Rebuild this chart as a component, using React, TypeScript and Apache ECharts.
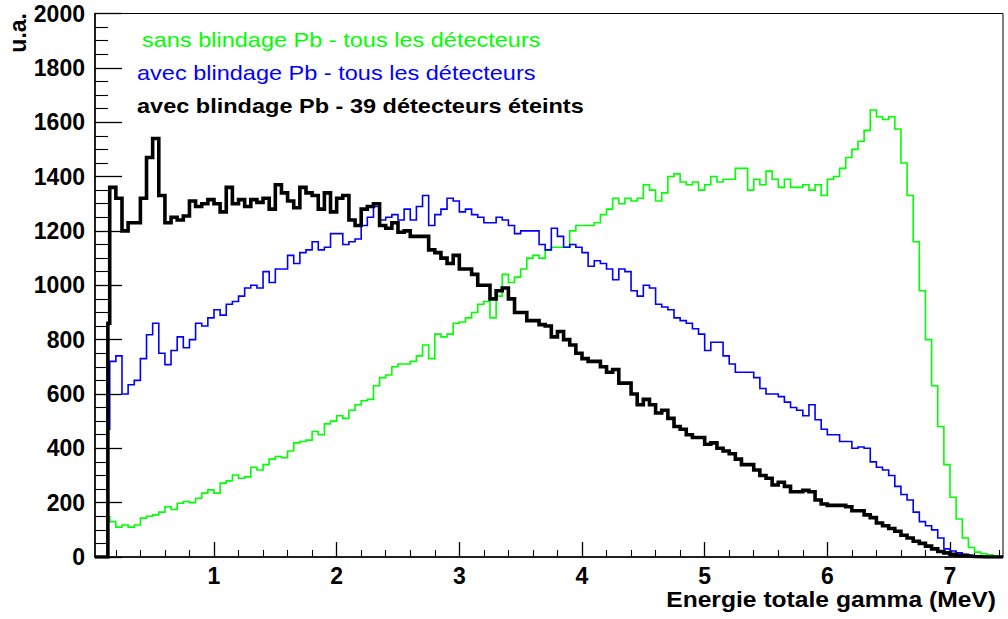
import React, { useEffect, useRef } from "react";
import * as echarts from "echarts";

// Axis ranges
const X_MIN = 0.03;
const X_MAX = 7.432;
const Y_MIN = 0;
const Y_MAX = 2000;
const Y_STEP = 200;

// Histogram binning (first partial bin starts at FIRST_EDGE, then regular bins)
const FIRST_EDGE = 0.135;
const BIN_START = 0.15;
const BIN_WIDTH = 0.05;

// Tick positions on the energy axis
const MAJOR_X = [1, 2, 3, 4, 5, 6, 7];
const MINOR_X = [
  0.2, 0.4, 0.6, 0.8, 1.2, 1.4, 1.6, 1.8, 2.2, 2.4, 2.6, 2.8, 3.2, 3.4, 3.6, 3.8,
  4.2, 4.4, 4.6, 4.8, 5.2, 5.4, 5.6, 5.8, 6.2, 6.4, 6.6, 6.8, 7.2, 7.4,
];

// sans blindage Pb - tous les détecteurs
const GREEN = [
  148,
  130, 110, 118, 110, 118, 143, 150, 155, 165, 185, 175, 198, 204, 200, 216, 235, 247, 235, 272, 280, 302, 290, 295, 330,
  320, 340, 360, 370, 365, 390, 420, 425, 430, 462, 450, 490, 500, 520, 510, 540, 560, 575, 580, 630, 660, 670, 700, 710, 710,
  720, 740, 780, 730, 820, 810, 820, 860, 865, 880, 900, 930, 940, 880, 960, 1040, 1010, 1030, 1060, 1100, 1110, 1100, 1130, 1140,
  1140, 1140, 1200, 1220, 1220, 1220, 1230, 1260, 1280, 1320, 1300, 1320, 1310, 1320, 1370, 1350, 1310, 1340, 1400, 1410, 1380, 1370, 1380, 1350, 1370,
  1400, 1380, 1390, 1390, 1430, 1430, 1350, 1390, 1370, 1420, 1390, 1360, 1390, 1360, 1360, 1370, 1350, 1370, 1330, 1390, 1400, 1430, 1470, 1500,
  1530, 1570, 1645, 1620, 1610, 1620, 1575, 1450, 1330, 1160, 980, 800, 630, 480, 340, 220, 140, 70, 35, 18, 12, 8, 3,
];

// avec blindage Pb - tous les détecteurs
const BLUE = [
  470,
  720, 740, 600, 634, 650, 730, 818, 860, 750, 708, 760, 810, 770, 800, 860, 850, 880, 910, 890, 930, 940, 960, 990, 1000,
  990, 1050, 1010, 1060, 1060, 1110, 1080, 1120, 1130, 1160, 1130, 1140, 1190, 1190, 1150, 1160, 1170, 1220, 1250, 1290, 1240, 1250, 1260, 1240, 1280,
  1240, 1290, 1330, 1220, 1260, 1280, 1320, 1310, 1270, 1280, 1260, 1250, 1230, 1230, 1250, 1240, 1220, 1190, 1200, 1200, 1200, 1150, 1130, 1210,
  1180, 1140, 1150, 1140, 1120, 1070, 1090, 1080, 1060, 1020, 1060, 1050, 980, 960, 1000, 990, 930, 920, 910, 880, 870, 860, 840, 820, 760,
  790, 790, 740, 710, 680, 680, 680, 660, 620, 600, 600, 590, 570, 550, 540, 520, 560, 505, 470, 450, 450, 425, 425, 400,
  405, 400, 350, 330, 320, 300, 260, 230, 210, 165, 130, 115, 100, 70, 30, 22, 15, 10, 5, 3, 2, 0, 0,
];

// avec blindage Pb - 39 détecteurs éteints
const BLACK = [
  860,
  1360, 1320, 1200, 1230, 1230, 1320, 1470, 1540, 1330, 1230, 1250, 1240, 1255, 1310, 1290, 1300, 1315, 1300, 1270, 1360, 1300, 1315, 1290, 1315,
  1305, 1320, 1280, 1370, 1340, 1310, 1285, 1360, 1340, 1330, 1280, 1340, 1270, 1320, 1330, 1240, 1220, 1280, 1290, 1300, 1220, 1210, 1230, 1195, 1200,
  1180, 1180, 1180, 1130, 1120, 1100, 1080, 1110, 1060, 1060, 1040, 1000, 1000, 950, 980, 990, 950, 900, 900, 870, 870, 855, 850, 810,
  830, 800, 780, 750, 730, 720, 720, 700, 680, 690, 640, 640, 600, 560, 580, 560, 530, 540, 510, 480, 470, 450, 440, 440, 415,
  420, 400, 390, 380, 360, 340, 340, 320, 300, 290, 265, 275, 260, 240, 240, 245, 240, 210, 195, 190, 190, 190, 185, 170,
  170, 155, 145, 125, 115, 105, 95, 80, 70, 58, 50, 40, 30, 20, 15, 10, 6, 4, 2, 1, 0, 0, 0,
];

const LEGEND = [
  { text: "sans blindage Pb - tous les détecteurs", color: "#00ff00", bold: false },
  { text: "avec blindage Pb - tous les détecteurs", color: "#0000ff", bold: false },
  { text: "avec blindage Pb - 39 détecteurs éteints", color: "#000000", bold: true },
];

const X_TITLE = "Energie totale gamma (MeV)";
const Y_TITLE = "u.a.";

const FONT = "Liberation Sans, Arial, Helvetica, sans-serif";

function binEdge(i: number): number {
  return i === 0 ? FIRST_EDGE : +(BIN_START + BIN_WIDTH * (i - 1)).toFixed(4);
}

function toSteps(values: number[]): [number, number][] {
  const pts: [number, number][] = [[X_MIN, 0]];
  values.forEach((v, i) => pts.push([binEdge(i), v]));
  pts.push([binEdge(values.length), 0]);
  pts.push([X_MAX, 0]);
  return pts;
}

function histSeries(name: string, values: number[], color: string, width: number) {
  return {
    name,
    type: "line",
    step: "end",
    xAxisIndex: 0,
    yAxisIndex: 0,
    showSymbol: false,
    symbol: "none",
    clip: true,
    lineStyle: { color, width, join: "miter" },
    data: toSteps(values),
  };
}

export default function App() {
  const ref = useRef<HTMLDivElement>(null);

  useEffect(() => {
    if (!ref.current) return;
    const chart = echarts.init(ref.current, null, { renderer: "svg" });
    const legendGraphics = LEGEND.map((l, i) => ({
      type: "text",
      x: i === 0 ? 142 : 137,
      y: [40, 73, 106][i],
      scaleX: 1.12,
      silent: true,
      style: {
        text: l.text,
        fill: l.color,
        fontSize: 21,
        fontWeight: l.bold ? "bold" : "normal",
        fontFamily: FONT,
        align: "left",
        verticalAlign: "middle",
      },
    }));
    const option: any = {
      animation: false,
      backgroundColor: "#ffffff",
      grid: {
        left: 95,
        right: 5,
        top: 13.5,
        bottom: 62,
        show: true,
        borderColor: "#000",
        borderWidth: 1,
        backgroundColor: "transparent",
      },
      xAxis: [
        {
          type: "value",
          min: X_MIN,
          max: X_MAX,
          position: "bottom",
          axisLine: { show: true, onZero: false, lineStyle: { color: "#000", width: 1.5 } },
          axisTick: {
            show: true,
            inside: true,
            length: 15,
            customValues: MAJOR_X,
            lineStyle: { color: "#000", width: 1.3 },
          },
          axisLabel: {
            show: true,
            customValues: MAJOR_X,
            color: "#000",
            fontSize: 23,
            fontWeight: "bold",
            fontFamily: FONT,
            margin: 7,
          },
          splitLine: { show: false },
        },
        {
          type: "value",
          min: X_MIN,
          max: X_MAX,
          position: "bottom",
          axisLine: { show: false, onZero: false },
          axisTick: {
            show: true,
            inside: true,
            length: 7,
            customValues: MINOR_X,
            lineStyle: { color: "#000", width: 1.1 },
          },
          axisLabel: { show: false },
          splitLine: { show: false },
        },
      ],
      yAxis: {
        type: "value",
        min: Y_MIN,
        max: Y_MAX,
        interval: Y_STEP,
        axisLine: { show: true, onZero: false, lineStyle: { color: "#000", width: 1.5 } },
        axisTick: { show: true, inside: true, length: 27, lineStyle: { color: "#000", width: 1.3 } },
        minorTick: { show: true, splitNumber: 4, length: 13, lineStyle: { color: "#000", width: 1.1 } },
        axisLabel: {
          color: "#000",
          fontSize: 23,
          fontWeight: "bold",
          fontFamily: FONT,
          margin: 10,
          formatter: (v: number) => String(v),
        },
        splitLine: { show: false },
        minorSplitLine: { show: false },
      },
      series: [
        histSeries(LEGEND[0].text, GREEN, "#00ff00", 1.6),
        histSeries(LEGEND[1].text, BLUE, "#0000ff", 1.6),
        histSeries(LEGEND[2].text, BLACK, "#000000", 3.6),
      ],
      graphic: [
        ...legendGraphics,
        {
          type: "text",
          x: 996,
          y: 599.5,
          scaleX: 1.12,
          silent: true,
          style: {
            text: X_TITLE,
            fill: "#000",
            fontSize: 22,
            fontWeight: "bold",
            fontFamily: FONT,
            align: "right",
            verticalAlign: "middle",
          },
        },
        {
          type: "text",
          x: 18,
          y: 13,
          rotation: Math.PI / 2,
          silent: true,
          style: {
            text: Y_TITLE,
            fill: "#000",
            fontSize: 23,
            fontWeight: "bold",
            fontFamily: FONT,
            align: "right",
            verticalAlign: "middle",
          },
        },
      ],
    };
    chart.setOption(option);
    return () => chart.dispose();
  }, []);

  return (
    <div
      ref={ref}
      style={{ position: "fixed", left: 0, top: 0, width: 1008, height: 619, background: "#fff" }}
    />
  );
}
